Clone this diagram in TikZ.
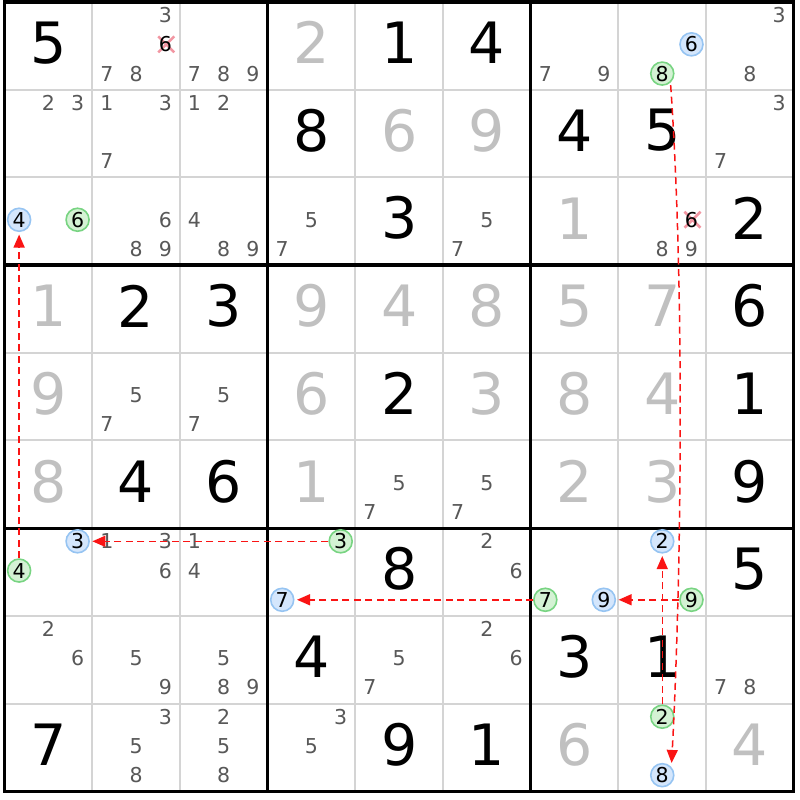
\documentclass[tikz,border=0pt]{standalone}
\usepackage{fontspec}
\setmainfont{DejaVu Sans}
\usetikzlibrary{arrows.meta}
\definecolor{candgray}{RGB}{88,88,88}
\definecolor{solvgray}{RGB}{192,192,192}
\definecolor{thingrid}{RGB}{212,212,212}
\definecolor{bluefill}{RGB}{212,230,252}
\definecolor{blueline}{RGB}{150,196,242}
\definecolor{greenfill}{RGB}{212,242,212}
\definecolor{greenline}{RGB}{120,212,130}
\definecolor{arrred}{RGB}{250,20,20}
\definecolor{crosspink}{RGB}{242,150,162}
\def\cellsz{87.7}
\newcommand\candpos[3]{%
  \pgfmathsetmacro\cpx{4.5+\cellsz*(#2-1)+\cellsz/6*(2*mod(#3-1,3)+1)}%
  \pgfmathsetmacro\cpy{798-\cellsz*(#1-1)-\cellsz/6*(2*int((#3-1)/3)+1)+1.5}}
\newcommand\cand[4]{\candpos{#2}{#3}{#4}\node[#1] (c#2#3#4) at (\cpx,\cpy) {#4};}
\newcommand\cands[3]{\foreach \dd in {#3}{\cand{candnum}{#1}{#2}{\dd}}}
\newcommand\candx[3]{\candpos{#1}{#2}{#3}%
  \draw[crossx] (\cpx+1,\cpy) +(-8,-8) -- +(8,8) +(-8,8) -- +(8,-8);%
  \node[candnum,text=black] (c#1#2#3) at (\cpx,\cpy) {#3};}
\newcommand\bigdig[4]{\node[#1] (d#2#3) at ({4.5+\cellsz*(#3-0.5)},{798-\cellsz*(#2-0.5)+3}) {#4};}
\tikzset{
  givenbig/.style={inner sep=0pt, font=\fontsize{57}{57}\selectfont, text=black},
  solvedbig/.style={givenbig, text=solvgray},
  candnum/.style={inner sep=0pt, font=\fontsize{20.5}{20.5}\selectfont, text=candgray},
  bluec/.style={circle, draw=blueline, fill=bluefill, line width=1.6pt, minimum size=23pt, inner sep=0pt, font=\fontsize{20.5}{20.5}\selectfont, text=black},
  greenc/.style={bluec, draw=greenline, fill=greenfill},
  thinline/.style={draw=thingrid, line width=2pt},
  thickline/.style={draw=black, line width=3.2pt},
  crossx/.style={draw=crosspink, line width=2.5pt},
  arr/.style={draw=arrred, line width=1.5pt, dash pattern=on 7pt off 4.5pt, -{Triangle[length=13pt,width=11pt]}, shorten >=2.5pt},
}
\begin{document}
\begin{tikzpicture}[x=1pt,y=1pt]
\useasboundingbox (0,0) rectangle (800,800);
\fill[white] (0,0) rectangle (800,800);
% grid
\foreach \i in {1,2,4,5,7,8} {
  \draw[thinline] ({4.5+\cellsz*\i},8.7) -- ({4.5+\cellsz*\i},798);
  \draw[thinline] (4.5,{798-\cellsz*\i}) -- (793.8,{798-\cellsz*\i});
}
\foreach \i in {3,6} {
  \draw[thickline] ({4.5+\cellsz*\i},8.7) -- ({4.5+\cellsz*\i},798);
  \draw[thickline] (4.5,{798-\cellsz*\i}) -- (793.8,{798-\cellsz*\i});
}
\draw[thickline] (4.5,8.7) rectangle (793.8,798);
% row 1
\bigdig{givenbig}{1}{1}{5}
\cands{1}{2}{3,7,8}\candx{1}{2}{6}
\cands{1}{3}{7,8,9}
\bigdig{solvedbig}{1}{4}{2}
\bigdig{givenbig}{1}{5}{1}
\bigdig{givenbig}{1}{6}{4}
\cands{1}{7}{7,9}
\cand{bluec}{1}{8}{6}\cand{greenc}{1}{8}{8}
\cands{1}{9}{3,8}
% row 2
\cands{2}{1}{2,3}
\cands{2}{2}{1,3,7}
\cands{2}{3}{1,2}
\bigdig{givenbig}{2}{4}{8}
\bigdig{solvedbig}{2}{5}{6}
\bigdig{solvedbig}{2}{6}{9}
\bigdig{givenbig}{2}{7}{4}
\bigdig{givenbig}{2}{8}{5}
\cands{2}{9}{3,7}
% row 3
\cand{bluec}{3}{1}{4}\cand{greenc}{3}{1}{6}
\cands{3}{2}{6,8,9}
\cands{3}{3}{4,8,9}
\cands{3}{4}{5,7}
\bigdig{givenbig}{3}{5}{3}
\cands{3}{6}{5,7}
\bigdig{solvedbig}{3}{7}{1}
\cands{3}{8}{8,9}\candx{3}{8}{6}
\bigdig{givenbig}{3}{9}{2}
% row 4
\bigdig{solvedbig}{4}{1}{1}
\bigdig{givenbig}{4}{2}{2}
\bigdig{givenbig}{4}{3}{3}
\bigdig{solvedbig}{4}{4}{9}
\bigdig{solvedbig}{4}{5}{4}
\bigdig{solvedbig}{4}{6}{8}
\bigdig{solvedbig}{4}{7}{5}
\bigdig{solvedbig}{4}{8}{7}
\bigdig{givenbig}{4}{9}{6}
% row 5
\bigdig{solvedbig}{5}{1}{9}
\cands{5}{2}{5,7}
\cands{5}{3}{5,7}
\bigdig{solvedbig}{5}{4}{6}
\bigdig{givenbig}{5}{5}{2}
\bigdig{solvedbig}{5}{6}{3}
\bigdig{solvedbig}{5}{7}{8}
\bigdig{solvedbig}{5}{8}{4}
\bigdig{givenbig}{5}{9}{1}
% row 6
\bigdig{solvedbig}{6}{1}{8}
\bigdig{givenbig}{6}{2}{4}
\bigdig{givenbig}{6}{3}{6}
\bigdig{solvedbig}{6}{4}{1}
\cands{6}{5}{5,7}
\cands{6}{6}{5,7}
\bigdig{solvedbig}{6}{7}{2}
\bigdig{solvedbig}{6}{8}{3}
\bigdig{givenbig}{6}{9}{9}
% row 7
\cand{bluec}{7}{1}{3}\cand{greenc}{7}{1}{4}
\cands{7}{2}{1,3,6}
\cands{7}{3}{1,4}
\cand{greenc}{7}{4}{3}\cand{bluec}{7}{4}{7}
\bigdig{givenbig}{7}{5}{8}
\cands{7}{6}{2,6}
\cand{greenc}{7}{7}{7}\cand{bluec}{7}{7}{9}
\cand{bluec}{7}{8}{2}\cand{greenc}{7}{8}{9}
\bigdig{givenbig}{7}{9}{5}
% row 8
\cands{8}{1}{2,6}
\cands{8}{2}{5,9}
\cands{8}{3}{5,8,9}
\bigdig{givenbig}{8}{4}{4}
\cands{8}{5}{5,7}
\cands{8}{6}{2,6}
\bigdig{givenbig}{8}{7}{3}
\bigdig{givenbig}{8}{8}{1}
\cands{8}{9}{7,8}
% row 9
\bigdig{givenbig}{9}{1}{7}
\cands{9}{2}{3,5,8}
\cands{9}{3}{2,5,8}
\cands{9}{4}{3,5}
\bigdig{givenbig}{9}{5}{9}
\bigdig{givenbig}{9}{6}{1}
\bigdig{solvedbig}{9}{7}{6}
\cand{greenc}{9}{8}{2}\cand{bluec}{9}{8}{8}
\bigdig{solvedbig}{9}{9}{4}
% arrows
\draw[arr] (c714) -- (c314);
\draw[arr] (c743) -- (c713);
\draw[arr] (c777) -- (c747);
\draw[arr] (c789) -- (c779);
\draw[arr] (c982) -- (c782);
\draw[arr, shorten <=2.5pt, shorten >=4pt] (c188.-48) .. controls +(-86:200) and +(87:200) .. (c988.42);
\end{tikzpicture}
\end{document}
